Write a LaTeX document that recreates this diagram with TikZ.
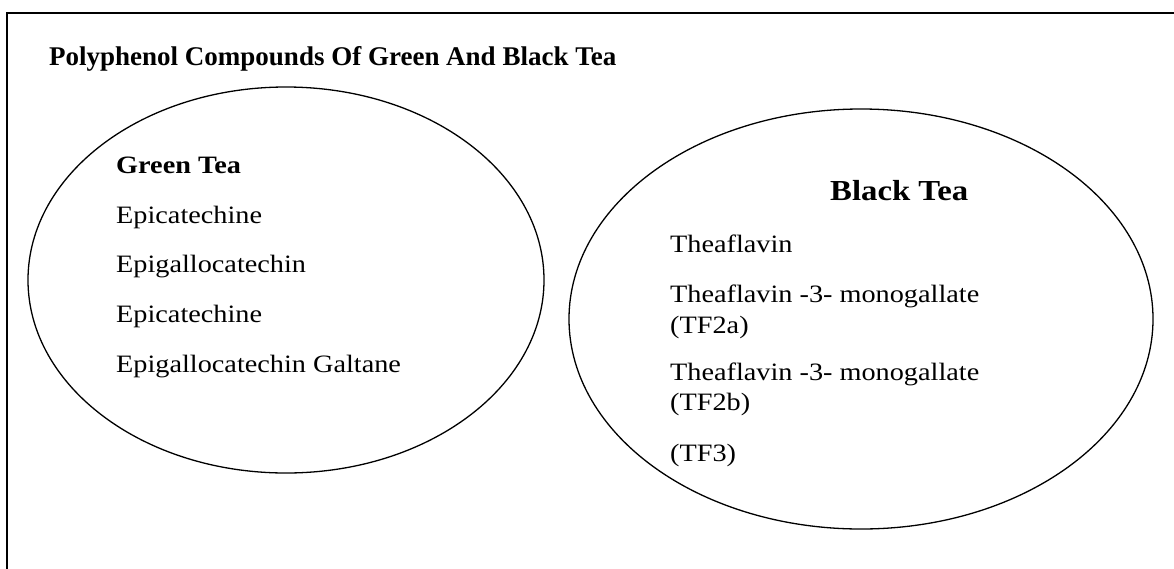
\documentclass[tikz,border=0pt]{standalone}
\usepackage{fontspec}
\setmainfont{Liberation Serif}
\newfontfamily\teafont[FakeStretch=1.13]{Liberation Serif}
\usepackage{tikz}
\usetikzlibrary{shapes.geometric}

\tikzset{
  teaitem/.style={anchor=base west, inner sep=0pt, font=\teafont\fontsize{25}{30}\selectfont},
  teahead/.style={teaitem, font=\teafont\bfseries\fontsize{25}{30}\selectfont},
  teaoval/.style={draw, ellipse, line width=1.3pt, inner sep=0pt}
}

\begin{document}
\begin{tikzpicture}[x=1pt, y=-1pt]
    \useasboundingbox (0,0) rectangle (1174,568);
    \clip (0,0) rectangle (1174,568);
    \draw[line width=2pt] (7,580) -- (7,13) -- (1190,13);

    \node[anchor=base west, inner sep=0pt, font=\bfseries\fontsize{27}{32}\selectfont]
      (title) at (49,65) {Polyphenol Compounds Of Green And Black Tea};

    \node[teaoval, minimum width=516pt, minimum height=386pt] (green) at (286,280) {};
    \node[teaoval, minimum width=584pt, minimum height=420pt] (black) at (861,319) {};

    % green tea
    \node[teahead] (greenhead) at (116,173) {Green Tea};
    \node[teaitem] (gt1) at (116,223) {Epicatechine};
    \node[teaitem] (gt2) at (116,272) {Epigallocatechin};
    \node[teaitem] (gt3) at (116,322) {Epicatechine};
    \node[teaitem] (gt4) at (116,372) {Epigallocatechin Galtane};

    % black tea
    \node[teahead, font=\teafont\bfseries\fontsize{29}{34}\selectfont] (blackhead) at (830,200) {Black Tea};
    \node[teaitem] (bt1) at (670,252) {Theaflavin};
    \node[teaitem] (bt2) at (670,302) {Theaflavin -3- monogallate};
    \node[teaitem] (bt2a) at (670,333) {(TF2a)};
    \node[teaitem] (bt3) at (670,380) {Theaflavin -3- monogallate};
    \node[teaitem] (bt3b) at (670,410) {(TF2b)};
    \node[teaitem] (bt4) at (670,461) {(TF3)};
  \end{tikzpicture}
\end{document}
